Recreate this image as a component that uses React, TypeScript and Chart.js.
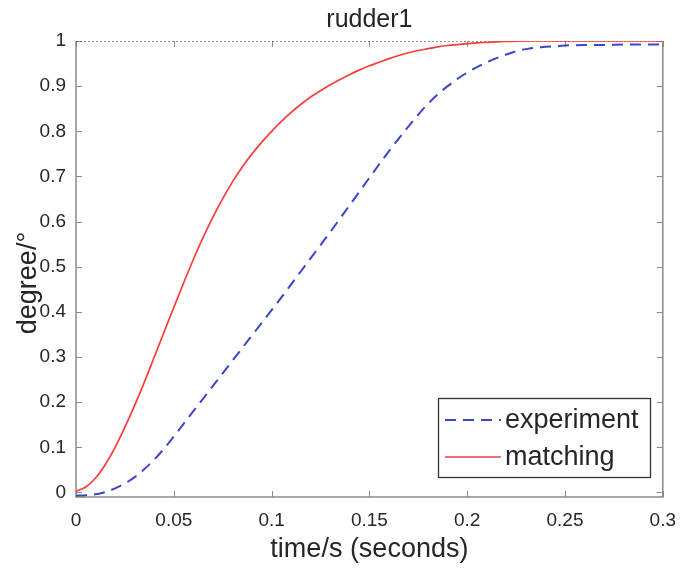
import React, { useEffect, useRef } from "react";
import { Chart, registerables } from "chart.js";
Chart.register(...registerables);

const timeValues = [
  0, 0.005, 0.01, 0.015, 0.02, 0.025, 0.03, 0.035, 0.04, 0.045, 0.05, 0.055, 0.06, 0.065, 0.07, 0.075,
  0.08, 0.085, 0.09, 0.095, 0.1, 0.105, 0.11, 0.115, 0.12, 0.125, 0.13, 0.135, 0.14, 0.145, 0.15, 0.155,
  0.16, 0.165, 0.17, 0.175, 0.18, 0.185, 0.19, 0.195, 0.2, 0.205, 0.21, 0.215, 0.22, 0.225, 0.23,
  0.24, 0.25, 0.26, 0.27, 0.28, 0.29, 0.3,
];
const matchingValues = [
  0.003, 0.012, 0.032, 0.062, 0.1, 0.145, 0.193, 0.245, 0.3, 0.355, 0.41, 0.464, 0.516, 0.565, 0.61, 0.651,
  0.688, 0.721, 0.75, 0.776, 0.8, 0.822, 0.842, 0.86, 0.876, 0.89, 0.903, 0.915, 0.926, 0.936, 0.945, 0.953,
  0.961, 0.968, 0.974, 0.979, 0.983, 0.987, 0.99, 0.992, 0.994, 0.996, 0.997, 0.998, 0.999, 0.9995, 1,
  1, 1, 1, 1, 1, 1, 1,
];
const experimentValues = [
  -0.007, -0.006, -0.004, 0.001, 0.009, 0.02, 0.034, 0.052, 0.073, 0.097, 0.124, 0.152, 0.18, 0.208, 0.236, 0.264,
  0.292, 0.32, 0.348, 0.376, 0.404, 0.432, 0.461, 0.49, 0.519, 0.548, 0.577, 0.607, 0.637, 0.667, 0.697, 0.727,
  0.756, 0.784, 0.811, 0.837, 0.861, 0.882, 0.9, 0.916, 0.93, 0.942, 0.953, 0.962, 0.97, 0.977, 0.982,
  0.987, 0.99, 0.991, 0.991, 0.992, 0.992, 0.992,
];
const referenceTimes = [0, 0.3];
const referenceValues = [1, 1];

const xTicks = [0, 0.05, 0.1, 0.15, 0.2, 0.25, 0.3];
const xTickLabels = ["0", "0.05", "0.1", "0.15", "0.2", "0.25", "0.3"];
const yTicks = [0, 0.1, 0.2, 0.3, 0.4, 0.5, 0.6, 0.7, 0.8, 0.9, 1];
const yTickLabels = ["0", "0.1", "0.2", "0.3", "0.4", "0.5", "0.6", "0.7", "0.8", "0.9", "1"];

const seriesNames = ["experiment", "matching"];
const titleText = "rudder1";
const xTitle = "time/s (seconds)";
const yTitle = "degree/°";

const FONT = "'Liberation Sans', Arial, Helvetica, sans-serif";
const TEXT = "#262626";
const AXIS = "#8a8a8a";
const BLUE = "#3c46c8";
const RED = "#ff3c3c";

const decorPlugin = {
  id: "decor",
  beforeDatasetsDraw(chart: any) {
    const { ctx, chartArea: a, scales } = chart;
    const xs = scales.x;
    const ys = scales.y;
    ctx.save();
    ctx.strokeStyle = AXIS;
    ctx.lineWidth = 1.5;
    ctx.beginPath();
    ctx.moveTo(a.left, a.top);
    ctx.lineTo(a.left, a.bottom);
    ctx.lineTo(a.right, a.bottom);
    ctx.lineTo(a.right, a.top);
    ctx.stroke();
    const tl = 6;
    ctx.lineWidth = 1;
    ctx.beginPath();
    xTicks.forEach((v) => {
      const px = Math.round(xs.getPixelForValue(v)) + 0.5;
      ctx.moveTo(px, a.bottom);
      ctx.lineTo(px, a.bottom - tl);
      ctx.moveTo(px, a.top);
      ctx.lineTo(px, a.top + tl);
    });
    yTicks.forEach((v) => {
      const py = Math.round(ys.getPixelForValue(v)) + 0.5;
      ctx.moveTo(a.left, py);
      ctx.lineTo(a.left + tl, py);
      ctx.moveTo(a.right, py);
      ctx.lineTo(a.right - tl, py);
    });
    ctx.stroke();
    ctx.restore();
  },
  afterDraw(chart: any) {
    const { ctx, chartArea: a } = chart;
    ctx.save();
    ctx.fillStyle = TEXT;
    ctx.textAlign = "center";
    ctx.textBaseline = "alphabetic";
    ctx.font = `25px ${FONT}`;
    ctx.fillText(titleText, (a.left + a.right) / 2, 27);
    ctx.font = `27px ${FONT}`;
    ctx.fillText(xTitle, (a.left + a.right) / 2, 557);
    ctx.save();
    ctx.translate(36, (a.top + a.bottom) / 2 + 14);
    ctx.rotate(-Math.PI / 2);
    ctx.fillText(yTitle, 0, 0);
    ctx.restore();

    // legend
    const bx = 438, by = 398, bw = 212, bh = 79;
    ctx.fillStyle = "#ffffff";
    ctx.fillRect(bx, by, bw, bh);
    ctx.strokeStyle = "#333333";
    ctx.lineWidth = 1.3;
    ctx.strokeRect(bx + 0.5, by + 0.5, bw, bh);
    const rows = [
      { y: 420, color: BLUE, dash: [11, 7], width: 2 },
      { y: 457, color: RED, dash: [], width: 1.6 },
    ];
    rows.forEach((r, i) => {
      ctx.strokeStyle = r.color;
      ctx.lineWidth = r.width;
      ctx.setLineDash(r.dash);
      ctx.beginPath();
      ctx.moveTo(445, r.y);
      ctx.lineTo(501, r.y);
      ctx.stroke();
      ctx.setLineDash([]);
      ctx.fillStyle = TEXT;
      ctx.textAlign = "left";
      ctx.textBaseline = "middle";
      ctx.font = `27px ${FONT}`;
      ctx.fillText(seriesNames[i], 505, r.y + 1);
    });
    ctx.restore();
  },
};

export default function App() {
  const ref = useRef<HTMLCanvasElement | null>(null);
  useEffect(() => {
    if (!ref.current) return;
    const chart = new Chart(ref.current, {
      type: "line",
      data: {
        datasets: [
          {
            label: "reference",
            data: referenceTimes.map((t, i) => ({ x: t, y: referenceValues[i] })),
            borderColor: "#222222",
            borderWidth: 1,
            borderDash: [2, 2],
            pointRadius: 0,
            order: 3,
          },
          {
            label: seriesNames[0],
            data: timeValues.map((t, i) => ({ x: t, y: experimentValues[i] })),
            borderColor: BLUE,
            borderWidth: 2,
            borderDash: [11, 7],
            pointRadius: 0,
            cubicInterpolationMode: "monotone",
            order: 2,
          },
          {
            label: seriesNames[1],
            data: timeValues.map((t, i) => ({ x: t, y: matchingValues[i] })),
            borderColor: RED,
            borderWidth: 1.7,
            pointRadius: 0,
            cubicInterpolationMode: "monotone",
            order: 1,
          },
        ],
      },
      plugins: [decorPlugin],
      options: {
        animation: false,
        responsive: false,
        maintainAspectRatio: false,
        devicePixelRatio: 1,
        layout: { padding: { top: 41, right: 16, left: 0, bottom: 0 } },
        plugins: {
          legend: { display: false },
          title: { display: false },
          tooltip: { enabled: false },
        },
        scales: {
          x: {
            type: "linear",
            min: 0,
            max: 0.3,
            border: { display: false },
            grid: { display: false, drawTicks: false },
            afterFit: (s: any) => { s.height = 72; },
            afterBuildTicks: (s: any) => { s.ticks = xTicks.map((v) => ({ value: v })); },
            ticks: {
              padding: 12,
              color: TEXT,
              font: { family: FONT, size: 19 },
              maxRotation: 0,
              autoSkip: false,
              callback: (v: any) => {
                const i = xTicks.findIndex((t) => Math.abs(t - v) < 1e-9);
                return i >= 0 ? xTickLabels[i] : "";
              },
            },
          },
          y: {
            type: "linear",
            min: -0.01,
            max: 1,
            border: { display: false },
            grid: { display: false, drawTicks: false },
            afterFit: (s: any) => { s.width = 76; },
            afterBuildTicks: (s: any) => { s.ticks = yTicks.map((v) => ({ value: v })); },
            ticks: {
              padding: 10,
              color: TEXT,
              font: { family: FONT, size: 19 },
              autoSkip: false,
              callback: (v: any) => {
                const i = yTicks.findIndex((t) => Math.abs(t - v) < 1e-9);
                return i >= 0 ? yTickLabels[i] : "";
              },
            },
          },
        },
      },
    } as any);
    return () => chart.destroy();
  }, []);
  return (
    <div style={{ position: "absolute", left: 0, top: 0, width: 688, height: 569, background: "#fff" }}>
      <canvas ref={ref} width={688} height={569} style={{ width: 688, height: 569, display: "block" }} />
    </div>
  );
}
